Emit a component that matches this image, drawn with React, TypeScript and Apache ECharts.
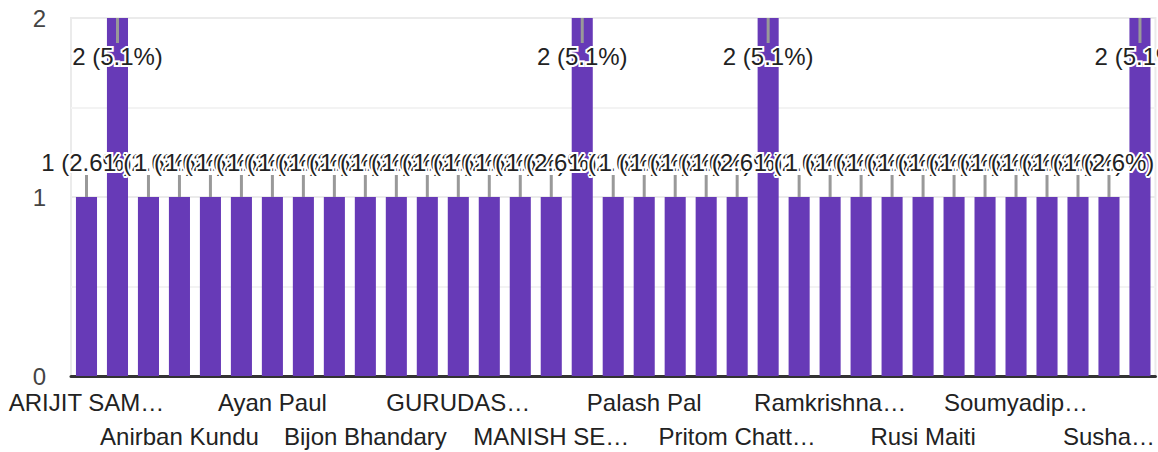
import React, { useEffect, useRef } from "react";
import * as echarts from "echarts";

const categories: string[] = [
  "ARIJIT SAMANTA", "Abhijit Das", "Amit Roy", "Anirban Kundu", "Arup Dey", "Avijit Mondal",
  "Ayan Paul", "Bappa Das", "Bidyut Roy", "Bijon Bhandary", "Debasish Sarkar", "Dipankar Jana",
  "GURUDAS BANERJEE", "Joydeb Maity", "Kalyan Das", "MANISH SENGUPTA", "Mithun Bera", "Nirmal Hazra",
  "Palash Pal", "Prasenjit Jana", "Pratap Mondal", "Pritom Chatterjee", "Rajib Maity", "Rakesh Pal",
  "Ramkrishna Mandal", "Ranjit Das", "Rathin Giri", "Rusi Maiti", "Sanjay Bag", "Sk Rahim",
  "Soumyadip Ghosh", "Subhankar Jana", "Sudip Manna", "Sushanta Das", "Tapas Bera",
];

const counts: number[] = [
  1, 2, 1, 1, 1, 1,
  1, 1, 1, 1, 1, 1,
  1, 1, 1, 1, 2, 1,
  1, 1, 1, 1, 2, 1,
  1, 1, 1, 1, 1, 1,
  1, 1, 1, 1, 2,
];

const yTicks: number[] = [0, 1, 2];

const FONT = "'Liberation Sans', Arial, sans-serif";
const FS = 24;
const BAR = "#673ab7";

export default function App() {
  const ref = useRef<HTMLDivElement>(null);

  useEffect(() => {
    if (!ref.current) return;
    const chart = echarts.init(ref.current, null, { renderer: "svg" });
    const total = counts.reduce((a, b) => a + b, 0);
    const yMax = yTicks[yTicks.length - 1];

    const gridLeft = 71;
    const gridRight = 2;
    const width = 1158;
    const step = (width - gridLeft - gridRight) / categories.length;

    const ctx = document.createElement("canvas").getContext("2d")!;
    ctx.font = `${FS}px 'Liberation Sans', Arial`;
    const truncate = (text: string, index: number) => {
      const distRight = (categories.length - index - 0.5) * step + gridRight;
      const maxW = Math.min(165, 2 * distRight);
      if (ctx.measureText(text).width <= maxW) return text;
      let s = text;
      while (s.length > 0 && ctx.measureText(s + "…").width > maxW) s = s.slice(0, -1);
      return s.trimEnd() + "…";
    };

    const labelData = counts.map((v, i) => [i, v]);

    const option: any = {
      animation: false,
      textStyle: { fontFamily: FONT },
      grid: {
        left: gridLeft,
        right: gridRight,
        top: 18,
        bottom: 76,
        show: true,
        borderColor: "#ebebeb",
        borderWidth: 2,
        backgroundColor: "transparent",
      },
      xAxis: [
        {
          type: "category",
          data: categories,
          axisTick: { show: false },
          axisLine: { lineStyle: { color: "#333", width: 3 } },
          axisLabel: {
            interval: (i: number) => i % 6 === 0,
            margin: 14,
            fontSize: FS,
            fontFamily: FONT,
            color: "#222",
            formatter: (v: string, i: number) => truncate(v, i),
          },
        },
        {
          type: "category",
          data: categories,
          position: "bottom",
          offset: 34,
          axisTick: { show: false },
          axisLine: { show: false },
          axisLabel: {
            interval: (i: number) => i % 6 === 3,
            margin: 14,
            fontSize: FS,
            fontFamily: FONT,
            color: "#222",
            formatter: (v: string, i: number) => truncate(v, i),
          },
        },
      ],
      yAxis: {
        type: "value",
        min: yTicks[0],
        max: yMax,
        interval: 1,
        axisLine: { show: false },
        axisTick: { show: false },
        axisLabel: { fontSize: FS, fontFamily: FONT, color: "#444", margin: 25 },
        splitLine: { lineStyle: { color: "#ebebeb", width: 2 } },
        minorTick: { show: false, splitNumber: 2 },
        minorSplitLine: { show: true, lineStyle: { color: "#f3f3f3", width: 2 } },
      },
      series: [
        {
          type: "bar",
          data: counts,
          xAxisIndex: 0,
          barCategoryGap: "32%",
          itemStyle: { color: BAR },
          z: 2,
        },
        {
          type: "custom",
          xAxisIndex: 0,
          data: labelData,
          encode: { x: 0, y: 1 },
          clip: false,
          z: 5,
          renderItem: (params: any, api: any) => {
            const i = api.value(0);
            const v = api.value(1);
            const top = api.coord([i, v]);
            const atMax = v >= yMax;
            const pct = ((v / total) * 100).toFixed(1);
            const txt = `${v} (${pct}%)`;
            const lineY2 = atMax ? top[1] + 25 : top[1] - 22;
            const textY = atMax ? top[1] + 38 : top[1] - 35;
            return {
              type: "group",
              children: [
                {
                  type: "line",
                  shape: { x1: top[0], y1: top[1], x2: top[0], y2: lineY2 },
                  style: { stroke: "#999", lineWidth: 3 },
                },
                {
                  type: "text",
                  x: top[0],
                  y: textY,
                  style: {
                    text: txt,
                    fontSize: FS,
                    fontFamily: FONT,
                    fill: "#222",
                    align: "center",
                    verticalAlign: "middle",
                    stroke: "#fff",
                    lineWidth: 4,
                  },
                },
              ],
            };
          },
        },
      ],
    };

    chart.setOption(option);
    return () => chart.dispose();
  }, []);

  return (
    <div
      ref={ref}
      style={{ position: "fixed", left: 0, top: 0, width: 1158, height: 452, background: "#fff" }}
    />
  );
}
